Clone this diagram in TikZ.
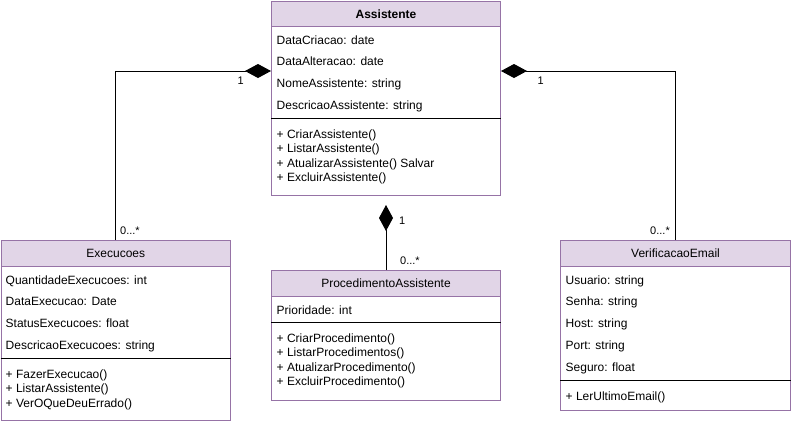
\documentclass[tikz,border=0pt]{standalone}
\usepackage{fontspec}
\setmainfont{Liberation Sans}
\usetikzlibrary{arrows.meta}
\definecolor{headfill}{HTML}{E1D5E7}
\definecolor{boxline}{HTML}{9673A6}

\begin{document}
\begin{tikzpicture}[x = 1pt, y = -1pt]
		\tikzstyle{every node} = [font = \fontsize{12}{14.4}\selectfont, inner sep = 0pt]
		\tikzstyle{classbody} = [draw = boxline, fill = white, line width = 1pt, anchor = north west]
		\tikzstyle{classhead} = [classbody, fill = headfill]
		\tikzstyle{member} = [anchor = base west]
		\tikzstyle{mult} = [anchor = base west, font = \fontsize{11}{13}\selectfont]
		\tikzstyle{sepline} = [draw = black, line width = 1pt]
		\tikzstyle{compo} = [line width = 1pt, -{Diamond[length = 26pt, width = 14pt]}]
		\useasboundingbox (0,0) rectangle (791,424);

		% Assistente
		\node[classbody, minimum width = 229pt, minimum height = 194pt] (asst) at (271,1) {};
		\node[classhead, minimum width = 229pt, minimum height = 25pt, font = \fontsize{12}{14.4}\selectfont\bfseries] (asstH) at (271,1) {Assistente};
		\foreach \txt [count = \i from 0] in {DataCriacao: date, DataAlteracao: date, NomeAssistente: string, DescricaoAssistente: string}
		{
			\node[member] (asstA\i) at (276.5,44+21.9*\i) {\txt};
		}
		\draw[sepline] ([yshift = -117pt]asst.north west) -- ([yshift = -117pt]asst.north east); %attr / methods
		\foreach \txt [count = \i from 0] in {+ CriarAssistente(), + ListarAssistente(), + AtualizarAssistente() Salvar, + ExcluirAssistente()}
		{
			\node[member] (asstM\i) at (276.5,138.5+14.4*\i) {\txt};
		}

		% Execucoes
		\node[classbody, minimum width = 229.5pt, minimum height = 180pt] (exec) at (0.5,240) {};
		\node[classhead, minimum width = 229.5pt, minimum height = 26pt] (execH) at (0.5,240) {Execucoes};
		\foreach \txt [count = \i from 0] in {QuantidadeExecucoes: int, DataExecucao: Date, StatusExecucoes: float, DescricaoExecucoes: string}
		{
			\node[member] (execA\i) at (5.5,284+21.9*\i) {\txt};
		}
		\draw[sepline] ([yshift = -118pt]exec.north west) -- ([yshift = -118pt]exec.north east); %attr / methods
		\foreach \txt [count = \i from 0] in {+ FazerExecucao(), + ListarAssistente(), + VerOQueDeuErrado()}
		{
			\node[member] (execM\i) at (5.5,378.5+14.4*\i) {\txt};
		}

		% ProcedimentoAssistente
		\node[classbody, minimum width = 229pt, minimum height = 130pt] (proc) at (271,270) {};
		\node[classhead, minimum width = 229pt, minimum height = 26pt] (procH) at (271,270) {ProcedimentoAssistente};
		\node[member] (procA0) at (276.5,314) {Prioridade: int};
		\draw[sepline] ([yshift = -52.5pt]proc.north west) -- ([yshift = -52.5pt]proc.north east); %attr / methods
		\foreach \txt [count = \i from 0] in {+ CriarProcedimento(), + ListarProcedimentos(), + AtualizarProcedimento(), + ExcluirProcedimento()}
		{
			\node[member] (procM\i) at (276.5,342.5+14.4*\i) {\txt};
		}

		% VerificacaoEmail
		\node[classbody, minimum width = 230pt, minimum height = 170pt] (verif) at (560,240) {};
		\node[classhead, minimum width = 230pt, minimum height = 26pt] (verifH) at (560,240) {VerificacaoEmail};
		\foreach \txt [count = \i from 0] in {Usuario: string, Senha: string, Host: string, Port: string, Seguro: float}
		{
			\node[member] (verifA\i) at (565.5,284+21.9*\i) {\txt};
		}
		\draw[sepline] ([yshift = -140pt]verif.north west) -- ([yshift = -140pt]verif.north east); %attr / methods
		\node[member] (verifM0) at (565.5,400) {+ LerUltimoEmail()};

		% composicoes
		\draw[compo] (exec.north) |- ([yshift = -70pt]asst.north west); %exec to asst
		\draw[compo] (verif.north) |- ([yshift = -70pt]asst.north east); %verif to asst
		\draw[compo] (proc.north) -- ([yshift = -9pt]asst.south); %proc to asst

		\node[mult] (mExec1) at (237.5,84) {1};
		\node[mult] (mExecN) at (120,234) {0...*};
		\node[mult] (mVerif1) at (537.5,84) {1};
		\node[mult] (mVerifN) at (650,234) {0...*};
		\node[mult] (mProc1) at (399,224) {1};
		\node[mult] (mProcN) at (400,264) {0...*};
	\end{tikzpicture}
\end{document}
